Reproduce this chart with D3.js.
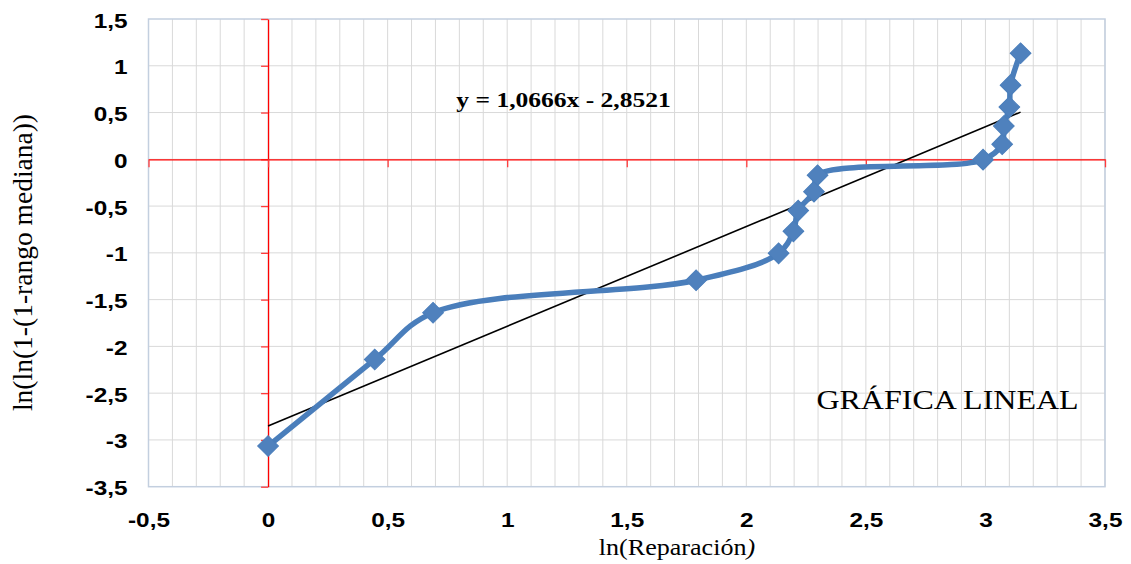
<!DOCTYPE html>
<html>
<head>
<meta charset="utf-8">
<script src="https://cdn.jsdelivr.net/npm/d3@7"></script>
<style>
  html, body { margin: 0; padding: 0; background: #fff; }
  svg { display: block; }
</style>
</head>
<body>
<svg id="chart" width="1131" height="564"></svg>
<script>
// ---- data ----
const lnRepair = [0, 0.446, 0.69, 1.79, 2.135, 2.197, 2.217, 2.283, 2.298, 2.99, 3.07, 3.077, 3.10, 3.105, 3.147];
const lnlnRank = [-3.065, -2.14, -1.64, -1.293, -1.005, -0.77, -0.548, -0.346, -0.17, -0.004, 0.162, 0.355, 0.558, 0.793, 1.134];
const xTicks = [-0.5, 0, 0.5, 1, 1.5, 2, 2.5, 3, 3.5];
const yTicks = [-3.5, -3, -2.5, -2, -1.5, -1, -0.5, 0, 0.5, 1, 1.5];
const xMinor = d3.range(-4, 36).map(d => d / 10);
const trendSlope = 1.0666;
const trendIntercept = -2.8521;
const trendRange = [0, 3.147];
const equationText = "y = 1,0666x - 2,8521";
const xTitle = "ln(Reparación";
const xTitleEnd = ")";
const yTitle = "ln(ln(1-(1-rango mediana))";
const noteText = "GRÁFICA LINEAL";

// ---- layout ----
const svg = d3.select("#chart");
const pLeft = 148.5, pRight = 1105, pTop = 19, pBottom = 486.7;
const SX = 1.16; // horizontal stretch of the reference's text
const x = d3.scaleLinear().domain([-0.5, 3.5]).range([pLeft, pRight]);
const y = d3.scaleLinear().domain([-3.5, 1.5]).range([pBottom, pTop]);
const fmt = v => d3.format("")(v).replace(".", ",").replace("−", "-");
const SERIF = "'Liberation Serif', 'Times New Roman', serif";
const SANS = "'Liberation Sans', Arial, sans-serif";

// gridlines
const grid = svg.append("g");
grid.selectAll("line.vx").data(xMinor).join("line")
  .attr("x1", d => x(d)).attr("x2", d => x(d))
  .attr("y1", pTop).attr("y2", pBottom)
  .attr("stroke", "#d9d9d9").attr("stroke-width", 1);
grid.selectAll("line.hy").data(yTicks.slice(1, -1)).join("line")
  .attr("x1", pLeft).attr("x2", pRight)
  .attr("y1", d => y(d)).attr("y2", d => y(d))
  .attr("stroke", "#d9d9d9").attr("stroke-width", 1);

// plot border
svg.append("rect")
  .attr("x", pLeft).attr("y", pTop)
  .attr("width", pRight - pLeft).attr("height", pBottom - pTop)
  .attr("fill", "none").attr("stroke", "#c3cfdf").attr("stroke-width", 1.5);

// red axes through zero
const redY = svg.append("g").attr("transform", `translate(${x(0)},0)`)
  .call(d3.axisLeft(y).tickValues(yTicks).tickSize(7).tickSizeOuter(0).tickFormat(""));
const redX = svg.append("g").attr("transform", `translate(0,${y(0)})`)
  .call(d3.axisBottom(x).tickValues(xTicks).tickSize(8).tickSizeOuter(0).tickFormat(""));
[redY, redX].forEach(g => {
  g.selectAll("path.domain").attr("stroke", "#ff0000").attr("stroke-width", 1.3);
  g.selectAll(".tick line").attr("stroke", "#ff3b3b").attr("stroke-width", 1.3);
});

// tick labels
const labelStyle = g => {
  g.select("path.domain").remove();
  g.selectAll(".tick line").remove();
  g.selectAll("text")
    .attr("font-family", SANS)
    .attr("font-weight", "bold")
    .attr("font-size", 21)
    .attr("fill", "#000");
};
const yLab = svg.append("g").attr("transform", `translate(${pLeft},0)`)
  .call(d3.axisLeft(y).tickValues(yTicks).tickSize(0).tickFormat(fmt))
  .call(labelStyle);
yLab.selectAll("text").attr("dy", null).attr("x", 0).attr("y", 0)
  .attr("transform", `translate(-21,8) scale(${SX},1)`);

const xLab = svg.append("g").attr("transform", `translate(0,${pBottom})`)
  .call(d3.axisBottom(x).tickValues(xTicks).tickSize(0).tickFormat(fmt))
  .call(labelStyle);
xLab.selectAll("text").attr("dy", null).attr("x", 0).attr("y", 0)
  .attr("transform", `translate(0,40) scale(${SX},1)`);

// trendline
svg.append("line")
  .attr("x1", x(trendRange[0])).attr("y1", y(trendSlope * trendRange[0] + trendIntercept))
  .attr("x2", x(trendRange[1])).attr("y2", y(trendSlope * trendRange[1] + trendIntercept))
  .attr("stroke", "#000").attr("stroke-width", 1.6);

// series
const pts = lnRepair.map((v, i) => [v, lnlnRank[i]]);
const line = d3.line().x(d => x(d[0])).y(d => y(d[1])).curve(d3.curveCatmullRom.alpha(0.5));
svg.append("path").datum(pts)
  .attr("d", line)
  .attr("fill", "none").attr("stroke", "#4a7ebb").attr("stroke-width", 5.5)
  .attr("stroke-linejoin", "round").attr("stroke-linecap", "round");

const diamond = d3.symbol().type(d3.symbolSquare).size(215);
svg.append("g").selectAll("path").data(pts).join("path")
  .attr("d", diamond)
  .attr("transform", d => `translate(${x(d[0])},${y(d[1])}) rotate(45)`)
  .attr("fill", "#4f81bd").attr("stroke", "#4a7ebb").attr("stroke-width", 1);

// equation
svg.append("text")
  .attr("transform", `translate(563.5,107) scale(${SX},1)`)
  .attr("text-anchor", "middle")
  .attr("font-family", SERIF)
  .attr("font-weight", "bold").attr("font-size", 22)
  .text(equationText);

// note
svg.append("text")
  .attr("transform", `translate(947.5,409) scale(${SX},1)`)
  .attr("text-anchor", "middle")
  .attr("font-family", SERIF)
  .attr("font-size", 27.6)
  .text(noteText);

// axis titles
const xt = svg.append("text")
  .attr("transform", `translate(677,555) scale(${SX},1)`)
  .attr("text-anchor", "middle")
  .attr("font-family", SERIF)
  .attr("font-size", 22.5);
xt.append("tspan").text(xTitle);
xt.append("tspan").attr("font-style", "italic").text(xTitleEnd);

svg.append("text")
  .attr("transform", `translate(32,262.5) rotate(-90)`)
  .attr("text-anchor", "middle")
  .attr("font-family", SERIF)
  .attr("font-size", 27.5)
  .text(yTitle);
</script>
</body>
</html>
